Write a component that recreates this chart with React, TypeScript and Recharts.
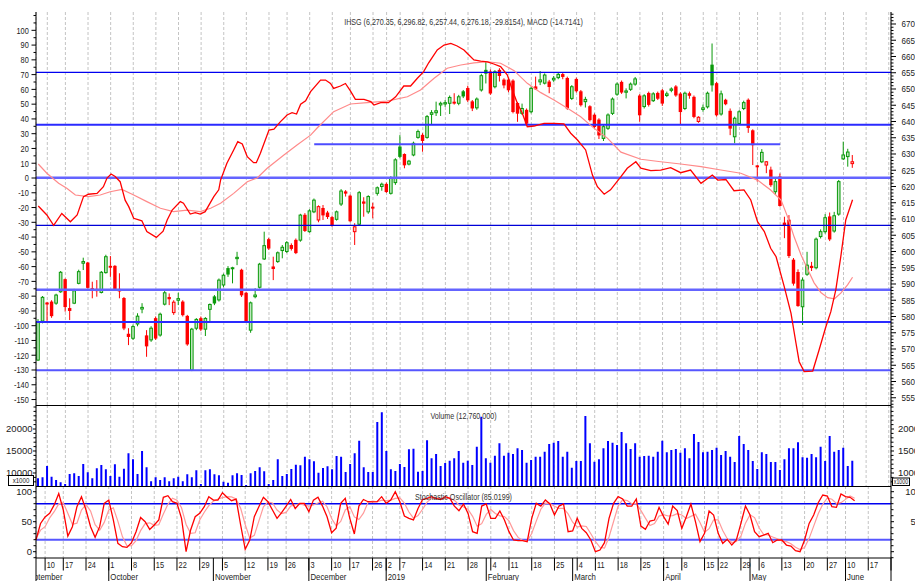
import React from 'react';
import { ComposedChart, Bar, Line, XAxis, YAxis, ReferenceLine, CartesianGrid } from 'recharts';

const SLOTS = 189;
const SANS = "'Liberation Sans', Arial, Helvetica, sans-serif";
const GREEN = '#0a9a0a';
const GREEN_LIGHT = '#bfe6bf';
const RED = '#ff0000';
const RED_LIGHT = '#ffc4c4';

const opens = [
  5666,5786,5842,5845,5841,5876,5914,5825,5841,5902,
  5964,5965,5886,5884,5874,5935,5955,5955,5884,5856,
  5746,5733,5777,5823,5741,5728,5794,5743,5838,5859,
  5812,5850,5845,5801,5635,5764,5794,5761,5822,5861,
  5851,5897,5948,5948,5978,5943,5872,5758,5861,5890,
  5977,6037,5953,5969,6003,6000,6019,6035,6035,6112,
  6061,6122,6097,6133,6119,6105,6099,6146,6184,6171,
  6061,6084,6153,6122,6137,6179,6200,6207,6179,6212,
  6322,6299,6269,6297,6351,6358,6351,6422,6427,6451,
  6454,6456,6460,6456,6492,6502,6461,6442,6497,6558,
  6553,6507,6558,6528,6528,6525,6456,6425,6435,6430,
  6507,6522,6518,6522,6528,6535,6545,6533,6471,6530,
  6492,6461,6446,6420,6405,6348,6379,6425,6484,6521,
  6490,6499,6515,6479,6446,6487,6464,6487,6495,6480,
  6496,6507,6485,6440,6486,6475,6400,6437,6445,6574,
  6517,6423,6466,6432,6353,6394,6440,6466,6372,6264,
  6276,6266,6251,6184,6230,6088,6097,5974,5936,5830,
  5930,5955,5950,6046,6061,6107,6063,6115,6285,6292,
  6270.35,
];
const highs = [
  5792,5863,5845,5850,5870,5940,5917,5856,5885,5944,
  5981,5968,5907,5912,5940,5990,5986,5958,5933,5860,
  5764,5775,5810,5841,5758,5770,5800,5812,5880,5871,
  5850,5873,5850,5805,5765,5795,5800,5798,5840,5866,
  5917,5932,5955,5953,5999,5947,5876,5846,5887,5965,
  6061,6042,5984,6000,6020,6032,6025,6040,6116,6118,
  6130,6163,6142,6143,6125,6110,6126,6192,6189,6175,
  6087,6186,6167,6173,6150,6200,6212,6212,6232,6287,
  6358,6302,6282,6338,6375,6364,6420,6435,6461,6461,
  6466,6480,6487,6482,6497,6510,6466,6474,6547,6584,
  6560,6558,6564,6533,6533,6530,6460,6455,6440,6508,
  6538,6555,6548,6528,6540,6550,6550,6538,6512,6535,
  6497,6476,6450,6425,6410,6389,6425,6474,6520,6526,
  6502,6520,6537,6484,6484,6492,6490,6492,6500,6492,
  6505,6512,6490,6492,6492,6480,6416,6452,6492,6640,
  6522,6495,6470,6440,6415,6435,6464,6471,6376,6266,
  6315,6278,6261,6225,6240,6107,6112,5980,5945,5920,
  5999,5968,6043,6068,6115,6120,6122,6220,6338,6316,
  6296.82,
];
const lows = [
  5663,5779,5784,5796,5836,5873,5815,5789,5838,5899,
  5943,5886,5856,5861,5871,5932,5922,5880,5856,5758,
  5712,5728,5770,5810,5676,5722,5728,5738,5834,5835,
  5805,5835,5800,5710,5632,5758,5755,5740,5784,5835,
  5846,5890,5922,5902,5958,5860,5780,5750,5856,5886,
  5974,6005,5912,5965,5979,5995,6003,5992,6030,6060,
  6058,6118,6090,6097,6100,6076,6095,6140,6169,6090,
  6020,6080,6107,6116,6102,6172,6187,6180,6175,6205,
  6287,6256,6265,6293,6347,6307,6347,6392,6417,6417,
  6445,6423,6452,6450,6472,6460,6432,6436,6492,6517,
  6482,6502,6523,6502,6490,6425,6399,6420,6389,6425,
  6497,6512,6514,6487,6522,6530,6530,6436,6466,6489,
  6446,6443,6400,6379,6346,6340,6374,6420,6479,6485,
  6471,6494,6510,6399,6440,6446,6460,6466,6448,6475,
  6490,6476,6392,6435,6470,6410,6396,6430,6440,6492,
  6415,6418,6450,6358,6333,6389,6435,6365,6266,6215,
  6272,6241,6199,6174,6138,6041,5980,5895,5830,5774,
  5925,5940,5945,6040,6055,6032,6058,6110,6282,6261,
  6257.44,
];
const closes = [
  5784,5859,5838,5802,5866,5936,5830,5818,5879,5938,
  5969,5889,5881,5879,5936,5984,5951,5884,5878,5764,
  5738,5769,5801,5828,5709,5764,5733,5807,5873,5854,
  5844,5855,5805,5715,5761,5791,5761,5794,5837,5841,
  5912,5927,5930,5950,5982,5866,5784,5842,5866,5961,
  6018,6010,5947,5996,6013,6027,6009,5996,6112,6064,
  6125,6158,6138,6112,6107,6081,6122,6186,6179,6094,
  6076,6181,6148,6169,6133,6196,6207,6184,6227,6282,
  6292,6266,6278,6333,6369,6341,6415,6427,6433,6456,
  6458,6474,6456,6476,6478,6466,6441,6469,6541,6548,
  6487,6553,6541,6512,6497,6430,6425,6440,6394,6502,
  6500,6528,6543,6507,6533,6545,6538,6441,6507,6494,
  6451,6468,6405,6384,6358,6384,6420,6469,6515,6490,
  6494,6515,6531,6420,6479,6452,6485,6471,6456,6485,
  6500,6481,6430,6487,6480,6415,6413,6442,6487,6512,
  6420,6485,6454,6379,6410,6430,6458,6381,6328,6260,
  6305,6276,6205,6215,6141,6080,5987,5902,5833,5912,
  5958,5950,6038,6061,6104,6038,6110,6215,6297,6306,
  6276.18,
];
// volume in thousands of shares
const volumes = [
  8800,9050,11591,9167,8409,7879,7500,9773,9924,9318,
  12045,10152,8795,11061,11818,10833,9318,11970,9167,10985,
  14470,13106,9773,15000,11288,8106,9015,8409,9015,8106,
  8795,9167,8106,9697,9015,10606,7500,10606,10833,9697,
  9470,8030,7803,9470,9924,9545,7273,9924,10455,11288,
  10379,7500,8409,13106,9318,9773,10909,11894,11742,13712,
  13106,12652,10076,11136,11515,10833,13864,13712,10227,12045,
  14470,17348,11288,10227,10227,21591,23788,15000,10833,10455,
  12045,11364,15379,15530,10303,10455,17424,13333,14318,11591,
  12273,12803,13333,15000,12348,12803,11818,15985,22803,13333,
  12348,13939,16742,13939,14621,14318,15606,15227,12348,12955,
  13712,13712,14848,16591,16894,17273,13712,14848,11212,12727,
  12727,22955,16742,12576,13106,15606,17273,16894,16364,19318,
  16742,15455,16742,13712,13864,13939,13712,14848,17348,14697,
  15227,15455,14621,15606,13333,18864,17045,14697,14848,15227,
  15758,14091,15000,13712,12500,18409,16591,15227,12727,10909,
  14697,14318,12500,12500,10682,13106,15606,15606,16970,13561,
  13485,14318,13561,15985,12727,18409,14848,15227,15758,11591,
  12760,
];
const stochK = [
  20,47,58,64,78,97,69.5,26,41.7,75,
  91.7,69.5,41.7,24,41.7,80.7,86,53,14,8.3,
  7.2,15,33.3,57,50,37.2,44.5,53,90.7,93.3,
  83.3,80.6,55.6,0,36.2,58.3,64,75,91.7,86,
  86,98.3,90.7,85,87.8,44.5,4,19.5,58.3,75,
  90.7,83.3,69.5,55.6,65,76,87,72,80.6,80.6,
  66.7,86,90.7,76,58.3,31.7,39,80.6,89,55.6,
  29.5,76,87,83.3,83,83.3,91.7,80.6,86,100,
  83.3,59.5,55.6,53,72,87,89,91.7,88.3,87,
  91.7,89,76,68.3,79.5,63.9,33.4,30.6,76.1,79.5,
  55.6,55.6,67.8,52.8,33.4,19.5,18.4,18.4,16.7,55.6,
  80.6,76.1,86.1,79.5,61.1,76.1,79.5,33.4,34.5,55.6,
  38.9,31.7,19.5,0,2.8,15,55.6,80.6,91.7,87.8,
  76.1,76.1,87.8,42.8,37.2,51.1,52.8,73.9,58.4,46.1,
  76.1,68.4,38.9,58.4,79.5,50,16.7,30.6,67.8,61.1,
  30.6,13.9,20.6,11.1,19.5,47.2,76.1,61.1,33.4,25,
  27.8,30.6,15,19.5,19.5,11.1,9.5,1.7,0,19.5,
  47.2,61.1,81.7,94.5,92.8,75,73.9,96.1,91.7,90.6,
  85,
];
const stochD = [
  22,36,41.7,56.3,66.7,79.7,81.5,64.2,45.7,47.6,
  69.5,78.7,67.6,45.1,35.8,48.8,69.5,73.2,51,25.1,
  9.8,10.2,18.5,35.1,46.8,48.1,43.9,44.9,62.7,79,
  89.1,85.7,73.2,45.4,30.6,31.5,52.8,65.8,76.9,84.2,
  87.9,90.1,91.7,91.3,87.8,72.4,45.4,22.7,27.3,50.9,
  74.7,83,81.2,69.5,63.4,65.5,76,78.3,79.9,77.7,
  76,77.8,81.1,84.2,75,55.3,43,50.4,69.5,75.1,
  58,53.7,64.2,82.1,84.4,83.2,86,85.2,86.1,88.9,
  89.8,80.9,66.1,56,60.2,70.7,82.7,89.2,89.7,89,
  89,89.2,85.6,77.8,74.6,70.6,58.9,42.6,46.7,62.1,
  70.4,63.6,59.7,58.7,51.3,35.2,23.8,18.8,17.8,30.2,
  51,70.8,80.9,80.6,75.6,72.2,72.2,63,49.1,41.2,
  43,42.1,30,17.1,7.4,5.9,24.5,50.4,76,86.7,
  85.2,80,80,68.9,55.9,43.7,47,59.3,61.7,59.5,
  60.2,63.5,61.1,55.2,58.9,62.6,48.7,32.4,38.4,53.2,
  53.2,35.2,21.7,15.2,17.1,25.9,47.6,61.5,56.9,39.8,
  28.7,27.8,24.5,21.7,18,16.7,13.4,7.4,3.7,7.1,
  22.2,42.6,63.3,79.1,89.7,87.4,80.6,81.7,87.2,92.8,
  89.2,
];
// MACD line and its signal line: [trading-day position, value]
const macdLine: [number, number][] = [
  [0,-19],[1.9,-25],[3.4,-32],[5.2,-24],[7.1,-29.6],[8.6,-25],[10,-12.6],[11.1,-11],[13,-10.4],[14.4,-5.9],
  [15.2,0],[16.1,2.7],[17,1],[18.1,-2.5],[19.2,-15],[20,-19.4],[21.1,-27.3],[22.9,-29],[24,-36.3],[26.1,-40.2],
  [27.6,-36],[28.5,-28.4],[29.6,-21.7],[31.4,-16],[32.1,-17.1],[33.6,-24.4],[34.7,-23.5],[35.8,-24.4],[36.9,-22.8],[38.8,-12.6],
  [39.9,-8],[40.3,-1.4],[41.7,10],[43.2,19],[44.1,24.6],[45.1,23],[46.2,14.4],[47.6,10.4],[48.2,10.4],[49.1,16.7],
  [51,32.5],[52.1,33],[53.5,38],[55,42.7],[56.1,44.2],[57.1,43.3],[58,50],[59.1,52.3],[60.2,58.5],[62.4,66.3],
  [63.5,66.3],[64.6,64],[65.3,60.7],[66.8,62.3],[67.9,64],[69,59],[70.1,53.3],[72,53.3],[73.5,51.7],[74.2,49.4],
  [75.7,51],[77.4,51],[79,55],[80.8,62.3],[82.3,62.3],[83.8,67.5],[85.2,72],[86.3,78],[88.2,86.7],[89.7,90],
  [91.2,91.2],[92.6,89.4],[94.1,86.7],[95.2,83.3],[96.3,79.9],[97.8,79.2],[99.3,78.7],[100.7,77.2],[102.2,75.4],[103.7,69.7],
  [104.8,59.6],[105.9,50.6],[107,43.8],[108.1,34.7],[109.6,35.2],[111.8,37],[114,37],[116.2,36.6],[117.7,30.3],[119.2,25.7],
  [121,19],[122.5,2],[123.6,-5.9],[125.1,-11],[126.5,-8],[128.8,0.9],[130.2,6.6],[132.1,11],[133.2,6.6],[135.4,5],
  [137.6,5.4],[139.8,7],[142,3.6],[144.2,5.4],[146.5,-3.6],[149,2],[150.2,-1.4],[152,-1],[153.8,-8.6],[156,-8.1],
  [157.5,-14.9],[159,-29.6],[160.5,-36.3],[161.9,-47.6],[163.1,-53.3],[164.9,-73.6],[166.4,-91.6],[167.5,-111.9],[168.2,-124.4],[169.3,-131.1],
  [171.2,-130.7],[172.6,-116.5],[174.1,-100.7],[175.2,-90.5],[176.3,-75.8],[177.4,-53.3],[178.5,-28.4],[180,-14.7],
];
const signalLine: [number, number][] = [
  [0,9.5],[1.9,3.2],[4.5,-3.6],[6.3,-7],[8.2,-11.5],[11.1,-12.6],[13.7,-11.5],[15.9,-9.3],[18.5,-7.7],[21.1,-11.5],
  [24,-16],[27,-20.5],[29.9,-22.8],[32.9,-21.7],[35.8,-22.8],[38.1,-20.5],[40.3,-17.1],[43.2,-10.4],[46.2,-2.5],[48.4,0],
  [50.6,6.6],[54.3,15.6],[57.2,22.3],[60.2,29],[61.7,34],[65.3,44.9],[69,50.1],[72.7,51],[77.1,52.1],[81.6,55],
  [84.5,59.6],[87.5,67.5],[90.4,74.3],[93.4,76.5],[96.3,78],[99.3,78.7],[102.2,77.7],[105.2,72.7],[108.1,64.1],[111.1,57.8],
  [114,52.8],[117,47.2],[119.9,41.5],[122.9,33.6],[125.8,27],[128.8,17.5],[133.2,12.7],[137.6,11],[142,9.5],[146.5,7.7],
  [150.9,5.4],[155.3,3.2],[159,-1.4],[161.9,-8.1],[164.2,-14.9],[165.6,-26],[167.1,-40],[168.6,-52],[170.1,-62],[171.5,-71],
  [173,-77.5],[174.5,-81],[176,-81.8],[177.4,-78],[178.9,-72.4],[180,-67.2],
];
const priceLevels = [6551, 6390, 6227, 6080.5, 5882, 5783, 5635];
const levelStroke = ['#0000f0', '#2a2aff', '#6464ff', '#0000d8', '#6464ff', '#2a2aff', '#5656ff'];
const levelWidth = [1.4, 2, 2.5, 1.4, 2.5, 2, 2];
const shortLevel = { from: 61, to: 164, price: 6330 };
const stochLevels = [80, 20];

const weekTicks = [2,6,11,16,21,26,31,36,41,46,51,55,60,65,69,74,77,80,85,90,95,100,104,109,114,119,123,128,133,138,142,147,150,155,159,164,169,174,178,183,188];
const weekLabels = ['10','17','24','1','8','15','22','29','5','12','19','26','3','10','17','26','2','7','14','21','28','4','11','18','25','4','11','18','25','1','8','15','22','29','6','13','20','27','10','17','24'];
const monthTicks = [0,16,39,60,77,99,118,138,157,178];
const monthLabels = ['September','October','November','December','2019','February','March','April','May','June'];

const macdLabels = [100,90,80,70,60,50,40,30,20,10,0,-10,-20,-30,-40,-50,-60,-70,-80,-90,-100,-110,-120,-130,-140,-150];
const priceLabels = [6700,6650,6600,6550,6500,6450,6400,6350,6300,6250,6200,6150,6100,6050,6000,5950,5900,5850,5800,5750,5700,5650,5600,5550];
const volLabels = [20000, 15000, 10000];
const stochLabels = [100, 50, 0];

const steps = (a: number, b: number, s: number) => { const r: number[] = []; for (let v = a; v <= b + 1e-9; v += s) r.push(Math.round(v * 100) / 100); return r; };
const macdTicks = steps(-150, 110, 5);
const priceTicks = steps(5530, 6730, 10);
const volTicks = steps(8000, 25000, 1000);
const stochTicks = steps(-10, 100, 10);

const rows: any[] = [];
for (let k = 0; k < SLOTS; k++) {
  if (k < closes.length) {
    rows.push({ k, range: [lows[k], highs[k]], o: opens[k], h: highs[k], l: lows[k], c: closes[k], pc: k > 0 ? closes[k - 1] : null, vol: volumes[k], sk: stochK[k], sd: stochD[k] });
  } else rows.push({ k });
}
const macdData = macdLine.map(([x, m]) => ({ x, m }));
const signalData = signalLine.map(([x, m]) => ({ x, m }));

// condensed text: Liberation Sans squeezed horizontally (Arial Narrow look)
const NText = ({ x, y, anchor = 'start', size = 9, fill = '#222', children }: any) => (
  <text transform={`translate(${x},${y}) scale(0.82,1)`} textAnchor={anchor} style={{ fontFamily: SANS, fontSize: size, fill }}>
    {children}
  </text>
);

const Candle = (props: any) => {
  const { x, y, width, height, payload } = props;
  if (!payload || payload.h == null || x == null) return null;
  const { o, h, l, c, pc } = payload;
  const top = Math.min(y, y + height);
  const hh = Math.abs(height);
  const ratio = h === l ? 0 : hh / (h - l);
  const Y = (v: number) => top + (h - v) * ratio;
  const cx = x + width / 2;
  const up = pc == null ? c >= o : c >= pc;
  const hollow = c > o;
  const color = up ? GREEN : RED;
  const bTop = Y(Math.max(o, c));
  const bBot = Y(Math.min(o, c));
  const bh = Math.max(1, bBot - bTop);
  return (
    <g>
      <line x1={cx} x2={cx} y1={Y(h)} y2={Y(l)} stroke={color} strokeWidth={1} />
      {hollow ? (
        <rect x={cx - 1.3} y={bTop} width={2.6} height={bh} fill={up ? GREEN_LIGHT : RED_LIGHT} stroke={color} strokeWidth={1} />
      ) : (
        <rect x={cx - 1.7} y={bTop - 0.3} width={3.4} height={bh + 0.6} fill={color} />
      )}
    </g>
  );
};

const axisTick = (side: 'left' | 'right', labels: number[], textX: number, anchor: string, narrow: boolean, size: number, major: number, minor: number) => (props: any) => {
  const { x, y, payload } = props;
  const v = payload.value;
  const isMajor = labels.indexOf(v) >= 0;
  const len = isMajor ? major : minor;
  const x1 = side === 'left' ? x - len : x;
  const x2 = side === 'left' ? x : x + len;
  return (
    <g>
      <line x1={x1} x2={x2} y1={y} y2={y} stroke="#000" strokeWidth={1} />
      {isMajor && (narrow ? (
        <NText x={textX} y={y + 3.3} anchor={anchor} size={size}>{String(v)}</NText>
      ) : (
        <text x={textX} y={y + 3.3} textAnchor={anchor} style={{ fontFamily: SANS, fontSize: size, fill: '#222' }}>{String(v)}</text>
      ))}
    </g>
  );
};

const BAND = 855 / SLOTS;

const WeekTick = (props: any) => {
  const { x, y, payload } = props;
  const i = weekTicks.indexOf(payload.value);
  return (
    <g>
      <line x1={x} x2={x} y1={y} y2={y + 12.5} stroke="#000" strokeWidth={1} />
      <svg x={36} y={y} width={855} height={13} overflow="hidden">
        <NText x={x - 36 + 1.6} y={10.4} size={9}>{weekLabels[i]}</NText>
      </svg>
    </g>
  );
};

const MonthTick = (props: any) => {
  const { x, y, payload } = props;
  const i = monthTicks.indexOf(payload.value);
  const first = payload.value === 0;
  const tx = first ? x - 3 * BAND + 2 : x + 1.6;
  return (
    <g>
      {!first && <line x1={x} x2={x} y1={y - 12} y2={y + 11} stroke="#000" strokeWidth={1} />}
      <svg x={36} y={y} width={855} height={11} overflow="hidden">
        <NText x={tx - 36} y={10} size={9.5}>{monthLabels[i]}</NText>
      </svg>
    </g>
  );
};

const gridProps = { horizontal: false, stroke: '#c4c4c4', strokeDasharray: '3 2' };

const MainChart = () => (
  <ComposedChart width={915} height={406} data={rows} margin={{ top: 12, right: 0, bottom: 1, left: 0 }}>
    <XAxis xAxisId="cat" dataKey="k" type="category" ticks={weekTicks} interval={0} hide />
    <XAxis xAxisId="num" dataKey="x" type="number" domain={[-0.5, SLOTS - 0.5]} allowDataOverflow hide />
    <YAxis yAxisId="macd" orientation="left" width={36} domain={[-153.7, 112.4]} allowDataOverflow ticks={macdTicks} interval={0}
      tick={axisTick('left', macdLabels, 28.8, 'end', true, 9, 4.5, 2.5)} tickSize={0} tickMargin={0} tickLine={false} axisLine={{ stroke: '#000' }} />
    <YAxis yAxisId="price" orientation="right" width={24} domain={[5527.7, 6736.9]} allowDataOverflow ticks={priceTicks} interval={0}
      tick={axisTick('right', priceLabels, 901.5, 'start', true, 9.8, 5, 2.5)} tickSize={0} tickMargin={0} tickLine={false} axisLine={{ stroke: '#000' }} />
    <CartesianGrid xAxisId="cat" yAxisId="price" {...gridProps} />
    <Bar xAxisId="cat" yAxisId="price" dataKey="range" shape={Candle} barSize={4} isAnimationActive={false} />
    {priceLevels.map((p, i) => (
      <ReferenceLine key={'p' + i} xAxisId="cat" yAxisId="price" y={p} stroke={levelStroke[i]} strokeWidth={levelWidth[i]} />
    ))}
    <ReferenceLine xAxisId="cat" yAxisId="price" segment={[{ x: shortLevel.from, y: shortLevel.price }, { x: shortLevel.to, y: shortLevel.price }]} stroke="#4c4cff" strokeWidth={2} />
    <Line data={signalData} xAxisId="num" yAxisId="macd" dataKey="m" type="linear" stroke="#ff8a8a" strokeWidth={1.2} dot={false} activeDot={false} isAnimationActive={false} />
    <Line data={macdData} xAxisId="num" yAxisId="macd" dataKey="m" type="linear" stroke="#ff0000" strokeWidth={1.3} dot={false} activeDot={false} isAnimationActive={false} />
  </ComposedChart>
);

const VolumeChart = () => (
  <ComposedChart width={915} height={81} data={rows} margin={{ top: 0, right: 0, bottom: 0, left: 0 }}>
    <XAxis xAxisId="cat" dataKey="k" type="category" ticks={weekTicks} interval={0} hide />
    <YAxis yAxisId="v" orientation="left" width={36} domain={[7045, 25455]} allowDataOverflow ticks={volTicks} interval={0}
      tick={axisTick('left', volLabels, 32.5, 'end', false, 9.5, 3, 2.5)} tickSize={0} tickMargin={0} tickLine={false} axisLine={{ stroke: '#000' }} />
    <YAxis yAxisId="v2" orientation="right" width={24} domain={[7045, 25455]} allowDataOverflow ticks={volTicks} interval={0}
      tick={axisTick('right', volLabels, 898, 'start', false, 9.5, 3, 2.5)} tickSize={0} tickMargin={0} tickLine={false} axisLine={{ stroke: '#000' }} />
    <CartesianGrid xAxisId="cat" yAxisId="v" {...gridProps} />
    <Bar xAxisId="cat" yAxisId="v" dataKey="vol" fill="#0000ff" barSize={2} isAnimationActive={false} />
  </ComposedChart>
);

const StochChart = () => (
  <ComposedChart width={915} height={95} data={rows} margin={{ top: 0, right: 0, bottom: 0, left: 0 }}>
    <XAxis xAxisId="x1" dataKey="k" type="category" height={12} ticks={weekTicks} interval={0} tick={WeekTick}
      tickSize={0} tickMargin={0} tickLine={false} axisLine={{ stroke: '#000' }} />
    <XAxis xAxisId="x2" dataKey="k" type="category" height={11} ticks={monthTicks} interval={0} tick={MonthTick}
      tickSize={0} tickMargin={0} tickLine={false} axisLine={false} />
    <YAxis yAxisId="s" orientation="left" width={36} domain={[-10.5, 109.5]} allowDataOverflow ticks={stochTicks} interval={0}
      tick={axisTick('left', stochLabels, 32, 'end', false, 9.5, 3, 2.5)} tickSize={0} tickMargin={0} tickLine={false} axisLine={{ stroke: '#000' }} />
    <YAxis yAxisId="s2" orientation="right" width={24} domain={[-10.5, 109.5]} allowDataOverflow ticks={stochTicks} interval={0}
      tick={axisTick('right', stochLabels, 921, 'end', false, 9.5, 3, 2.5)} tickSize={0} tickMargin={0} tickLine={false} axisLine={{ stroke: '#000' }} />
    <CartesianGrid xAxisId="x1" yAxisId="s" {...gridProps} />
    <ReferenceLine xAxisId="x1" yAxisId="s" y={stochLevels[0]} stroke="#0000f0" strokeWidth={1.4} />
    <ReferenceLine xAxisId="x1" yAxisId="s" y={stochLevels[1]} stroke="#5656ff" strokeWidth={2} />
    <Line xAxisId="x1" yAxisId="s" dataKey="sd" type="linear" stroke="#ff9a9a" strokeWidth={1.2} dot={false} activeDot={false} isAnimationActive={false} />
    <Line xAxisId="x1" yAxisId="s" dataKey="sk" type="linear" stroke="#ff0000" strokeWidth={1.3} dot={false} activeDot={false} isAnimationActive={false} />
  </ComposedChart>
);

export default function App() {
  return (
    <div style={{ position: 'absolute', left: 0, top: 0, width: 915, height: 581, background: '#fff', overflow: 'hidden' }}>
      <div style={{ position: 'absolute', left: 0, top: 0 }}><MainChart /></div>
      <div style={{ position: 'absolute', left: 0, top: 405 }}><VolumeChart /></div>
      <div style={{ position: 'absolute', left: 0, top: 486 }}><StochChart /></div>
      <svg width={915} height={581} style={{ position: 'absolute', left: 0, top: 0, pointerEvents: 'none' }}>
        <NText x={463.5} y={25} anchor="middle" size={8.7} fill="#333">
          IHSG (6,270.35, 6,296.82, 6,257.44, 6,276.18, -29.8154), MACD (-14.7141)
        </NText>
        <NText x={463.5} y={419.3} anchor="middle" size={8.7} fill="#333">Volume (12,760,000)</NText>
        <NText x={463.5} y={499.5} anchor="middle" size={8.7} fill="#333">Stochastic Oscillator (85.0199)</NText>
        <line x1={36} x2={891} y1={405.5} y2={405.5} stroke="#000" strokeWidth={1} />
        <line x1={36} x2={891} y1={486.5} y2={486.5} stroke="#000" strokeWidth={1} />
        <line x1={36} x2={36} y1={558} y2={581} stroke="#000" strokeWidth={1} />
        <line x1={891} x2={891} y1={558} y2={581} stroke="#000" strokeWidth={1} />
        <rect x={8.5} y={475.5} width={25} height={10} fill="#fff" stroke="#000" strokeWidth={1} />
        <NText x={21} y={483.2} anchor="middle" size={7.5}>x1000</NText>
        <rect x={892.5} y={478} width={17} height={7.5} fill="#fff" stroke="#000" strokeWidth={1} />
        <NText x={901} y={484.2} anchor="middle" size={6.5}>x1000</NText>
      </svg>
    </div>
  );
}
